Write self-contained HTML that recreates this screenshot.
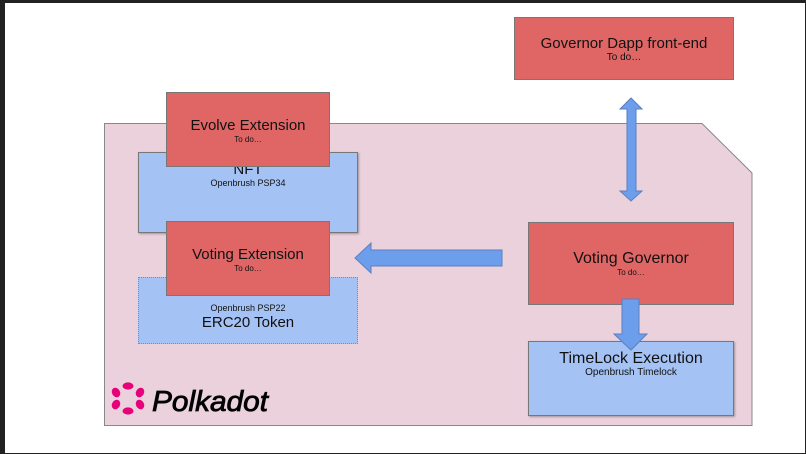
<!DOCTYPE html>
<html><head><style>
body{margin:0;width:806px;height:454px;background:#222;position:relative;overflow:hidden;font-family:"Liberation Sans",sans-serif}
.bx{position:absolute;box-sizing:border-box;text-align:center;color:#111}
.red{background:#e06666;border:1px solid #777}
.blue{background:#a4c2f4;border:1px solid #777;box-shadow:1px 1px 2px rgba(0,0,0,.3)}
.t{font-size:15px;line-height:17px}
.s{font-size:9px;line-height:11px}
</style></head><body>
<div style="position:absolute;left:5px;top:3px;width:800px;height:450px;background:#fff"></div>
<svg style="position:absolute;left:0;top:0" width="806" height="454">
<polygon points="104.5,123.5 702,123.5 752,173 752,425.5 104.5,425.5" fill="#ead1dc" stroke="#888" stroke-width="1"/>
</svg>
<div class="bx blue" style="left:138px;top:152px;width:220px;height:81px;padding-top:8px"><div class="t">NFT</div><div class="s">Openbrush PSP34</div></div>
<div class="bx red" style="left:166px;top:92px;width:164px;height:75px;padding-top:24px"><div class="t">Evolve Extension</div><div class="s" style="font-size:8px">To do…</div></div>
<div class="bx" style="left:138px;top:277px;width:220px;height:67px;background:#a4c2f4;border:1px dotted #6d8fc7;padding-top:25px"><div class="s">Openbrush PSP22</div><div class="t">ERC20 Token</div></div>
<div class="bx red" style="left:166px;top:221px;width:164px;height:75px;padding-top:24px"><div class="t">Voting Extension</div><div class="s" style="font-size:8px">To do…</div></div>
<div class="bx red" style="left:514px;top:17px;width:220px;height:63px;padding-top:17px"><div class="t">Governor Dapp front-end</div><div class="s" style="font-size:10px">To do…</div></div>
<div class="bx red" style="left:528px;top:222px;width:206px;height:83px;padding-top:27px"><div class="t" style="font-size:16px">Voting Governor</div><div class="s" style="font-size:8px">To do…</div></div>
<div class="bx blue" style="left:528px;top:341px;width:206px;height:75px;padding-top:8px"><div class="t" style="font-size:16px">TimeLock Execution</div><div class="s" style="font-size:10px">Openbrush Timelock</div></div>
<svg style="position:absolute;left:0;top:0" width="806" height="454">
<g fill="#6d9eeb" stroke="#5a7fbf" stroke-width="1">
<polygon points="631,98 642,109 636,109 636,191 642,191 631,201 620,191 627,191 627,109 620,109"/>
<polygon points="502,250 502,266 371,266 371,273 355,258 371,243 371,250"/>
<polygon points="622,299 639,299 639,334 647,334 631,350 614,334 622,334"/>
</g>
<g fill="#e6007a">
<ellipse cx="128" cy="386" rx="5.5" ry="3.6"/><ellipse cx="128" cy="411" rx="5.5" ry="3.6"/>
<ellipse cx="116" cy="392.5" rx="4" ry="5" transform="rotate(-30 116 392.5)"/>
<ellipse cx="140" cy="392.5" rx="4" ry="5" transform="rotate(30 140 392.5)"/>
<ellipse cx="116" cy="404.5" rx="4" ry="5" transform="rotate(30 116 404.5)"/>
<ellipse cx="140" cy="404.5" rx="4" ry="5" transform="rotate(-30 140 404.5)"/>
</g>
<text x="152" y="411" font-family="Liberation Sans,sans-serif" font-size="29" font-style="italic" fill="#000" stroke="#000" stroke-width="0.8" textLength="116" lengthAdjust="spacingAndGlyphs">Polkadot</text>
</svg>
</body></html>
